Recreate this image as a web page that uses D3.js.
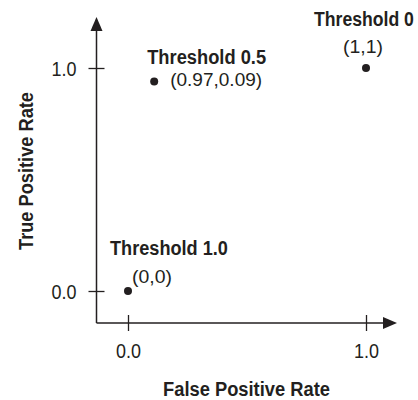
<!DOCTYPE html>
<html><head><meta charset="utf-8">
<script src="https://cdn.jsdelivr.net/npm/d3@7"></script>
<style>
body{margin:0;background:#fff;}
text{font-family:"Liberation Sans",Arial,sans-serif;fill:#231f20;}
</style></head><body>
<svg id="c" width="418" height="400"></svg>
<script>
const xTicks = [0, 1];
const yTicks = [0, 1];
const tickLabels = ["0.0", "1.0"];
const pointNames = ["Threshold 1.0", "Threshold 0.5", "Threshold 0"];
const pointCoords = ["(0,0)", "(0.97,0.09)", "(1,1)"];
const fpr = [0, 0.11, 1];
const tpr = [0, 0.94, 1];

const svg = d3.select("#c");
const x = d3.scaleLinear().domain([0, 1]).range([128, 366]);
const y = d3.scaleLinear().domain([0, 1]).range([291, 68]);
const ink = "#231f20";
const ox = 96.5, oy = 323;
const fs = "20px", fsb = "21px", fsc = "19px";

// condense a text horizontally to a given width, placed at (tx,ty), optional rotation
function place(sel, tx, ty, w, rot) {
  sel.each(function(d, i) {
    const t = d3.select(this).attr("x", 0).attr("y", 0).attr("dy", null);
    const X = typeof tx === "function" ? tx(d, i) : tx;
    const Y = typeof ty === "function" ? ty(d, i) : ty;
    const W = typeof w === "function" ? w(d, i) : w;
    const L = this.getComputedTextLength();
    const s = W / L;
    t.attr("transform", `translate(${X},${Y})` + (rot ? ` rotate(${rot})` : "") + ` scale(${s},1)`);
  });
}

// axis lines
svg.append("line").attr("x1", ox).attr("x2", ox).attr("y1", oy).attr("y2", 30).attr("stroke", ink).attr("stroke-width", 1.5);
svg.append("line").attr("x1", ox).attr("x2", 385).attr("y1", oy).attr("y2", oy).attr("stroke", ink).attr("stroke-width", 1.5);
// arrowheads
svg.append("path").attr("d", `M${ox},17 L${ox-6},31 L${ox+6},31 Z`).attr("fill", ink);
svg.append("path").attr("d", `M397,${oy} L383,${oy-6} L383,${oy+6} Z`).attr("fill", ink);

// y ticks
const yAxis = d3.axisLeft(y).tickValues(yTicks).tickFormat((d,i)=>tickLabels[i]).tickSize(0);
const yg = svg.append("g").attr("transform", `translate(${ox},0)`).call(yAxis);
yg.select(".domain").remove();
yg.attr("font-family", null).attr("font-size", null);
yg.selectAll(".tick line").attr("x1", -8).attr("x2", 8).attr("stroke", ink).attr("stroke-width", 1.3);
yg.selectAll(".tick text").style("font-size", fs).attr("fill", ink).attr("text-anchor", "end").call(place, -20, 7, 25);

// x ticks
const xAxis = d3.axisBottom(x).tickValues(xTicks).tickFormat((d,i)=>tickLabels[i]).tickSize(0);
const xg = svg.append("g").attr("transform", `translate(0,${oy})`).call(xAxis);
xg.select(".domain").remove();
xg.attr("font-family", null).attr("font-size", null);
xg.selectAll(".tick line").attr("y1", -8).attr("y2", 8).attr("stroke", ink).attr("stroke-width", 1.3);
xg.selectAll(".tick text").style("font-size", fs).attr("fill", ink).attr("text-anchor", "middle").call(place, 0, 35, 25);

// axis titles
svg.append("text").attr("text-anchor", "middle")
  .style("font-size", fsb).style("font-weight", "bold").text("False Positive Rate").call(place, 246.5, 396, 167);
svg.append("text").attr("text-anchor", "middle")
  .style("font-size", fsb).style("font-weight", "bold").text("True Positive Rate").call(place, 33, 171, 158, -90);

// points
const data = fpr.map((v,i)=>({fx:v, ty:tpr[i], name:pointNames[i], coord:pointCoords[i]}));
svg.selectAll("circle.pt").data(data).enter().append("circle").attr("class","pt")
  .attr("cx", d=>x(d.fx)).attr("cy", d=>y(d.ty)).attr("r", 4).attr("fill", ink);

// labels (pixel offsets from each point, and fitted widths)
const nameOff = [[-18,-36],[-7,-17],[-52,-42]];
const nameW = [118, 119, 100];
const coordOff = [[4,-8],[16,5],[-23,-15]];
const coordW = [40, 92, 40];
svg.selectAll("text.nm").data(data).enter().append("text").attr("class","nm")
  .style("font-size",fsb).style("font-weight","bold").text(d=>d.name)
  .call(place, (d,i)=>x(d.fx)+nameOff[i][0], (d,i)=>y(d.ty)+nameOff[i][1], (d,i)=>nameW[i]);
svg.selectAll("text.cd").data(data).enter().append("text").attr("class","cd")
  .style("font-size",fsc).text(d=>d.coord)
  .call(place, (d,i)=>x(d.fx)+coordOff[i][0], (d,i)=>y(d.ty)+coordOff[i][1], (d,i)=>coordW[i]);
</script></body></html>
